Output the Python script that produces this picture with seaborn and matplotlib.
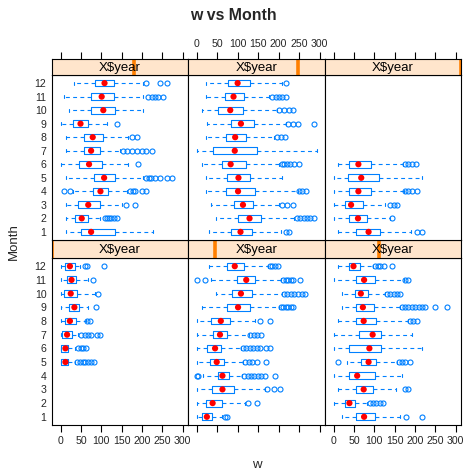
import numpy as np
import pandas as pd
import matplotlib
matplotlib.use("Agg")
import matplotlib.pyplot as plt
import seaborn as sns

nan = np.nan

# Monthly w summaries per year: whisker ends, quartiles, median and outliers
months = list(range(1, 13))
years = [1, 2, 3, 4, 5, 6]

whis_lo = {
    1: [nan, nan, nan, nan, 0, 0, 0, 0, 0, 0, 0, 0],
    2: [0, 0, 0, 16, 0, 0, 0, 0, 12, 48, 34, 31],
    3: [20, 0, 10, 0, 34, 0, 0, 10, 20, 20, 0, 10],
    4: [13, 13, 13, 31, 13, 0, 13, 13, 0, 21, 9, 33],
    5: [30, 47, 34, 23, 23, 12, 2, 23, 26, 12, 23, 23],
    6: [10, 0, 0, 0, 0, 10, nan, nan, nan, nan, nan, nan],
}
q1 = {
    1: [nan, nan, nan, nan, 2, 2, 4, 11, 21, 9, 15, 11],
    2: [12, 23, 37, 53, 33, 25, 39, 34, 75, 86, 98, 75],
    3: [55, 29, 55, 37, 68, 39, 63, 55, 55, 52, 55, 39],
    4: [49, 35, 43, 80, 82, 46, 58, 58, 30, 74, 76, 85],
    5: [84, 102, 92, 71, 75, 61, 41, 72, 84, 53, 70, 76],
    6: [56, 39, 29, 37, 35, 39, nan, nan, nan, nan, nan, nan],
}
median = {
    1: [nan, nan, nan, nan, 12, 12, 16, 23, 34, 25, 27, 23],
    2: [25, 39, 63, 63, 49, 45, 57, 59, 101, 108, 121, 93],
    3: [75, 39, 74, 58, 86, 88, 96, 74, 72, 67, 75, 49],
    4: [75, 52, 68, 98, 107, 70, 75, 79, 49, 105, 101, 108],
    5: [107, 129, 113, 101, 102, 83, 93, 94, 108, 82, 90, 100],
    6: [86, 60, 43, 61, 68, 61, nan, nan, nan, nan, nan, nan],
}
q3 = {
    1: [nan, nan, nan, nan, 19, 19, 27, 38, 46, 41, 39, 35],
    2: [37, 61, 90, 79, 67, 60, 75, 82, 129, 135, 143, 116],
    3: [102, 52, 98, 102, 105, 117, 117, 105, 100, 84, 102, 66],
    4: [134, 68, 97, 117, 134, 101, 97, 105, 68, 133, 131, 131],
    5: [135, 158, 137, 142, 131, 121, 146, 121, 139, 112, 116, 131],
    6: [115, 82, 72, 92, 111, 92, nan, nan, nan, nan, nan, nan],
}
whis_hi = {
    1: [nan, nan, nan, nan, 35, 35, 43, 62, 68, 84, 68, 48],
    2: [61, 119, 166, 111, 113, 107, 127, 143, 201, 209, 205, 174],
    3: [164, 82, 154, 169, 156, 216, 193, 182, 164, 127, 172, 98],
    4: [228, 97, 150, 162, 203, 166, 146, 166, 113, 203, 202, 202],
    5: [205, 238, 201, 246, 207, 201, 293, 189, 217, 197, 176, 209],
    6: [189, 139, 127, 172, 216, 170, nan, nan, nan, nan, nan, nan],
}
outliers = {
    1: [[], [], [], [], [41, 48, 54, 61, 68, 76, 82], [43, 49, 56, 62],
        [49, 60, 68, 76, 89, 98], [66, 72], [87], [93], [79], [60, 66, 107]],
    2: [[70, 75], [125, 146], [172, 189, 203],
        [0, 4, 116, 125, 133, 141, 149, 157, 166, 191],
        [119, 127, 135, 146, 170], [113, 121, 130, 138, 146, 154, 168, 179],
        [131, 139, 148, 156], [154, 178], [205, 211, 217, 223, 230, 236],
        [213, 221, 230, 238, 246, 258, 264],
        [0, 20, 211, 217, 223, 230, 236, 252], [179, 184, 190, 198]],
    3: [[179, 216], [89, 97, 105, 113, 121], [176, 184], [],
        [12, 160, 168, 176, 187], [], [], [187, 195, 205],
        [168, 176, 184, 193, 201, 209, 217, 225, 248, 279],
        [131, 139, 148, 156, 164], [176, 182], [102, 108, 115, 123, 143]],
    4: [[], [109, 115, 120, 125, 131, 138], [161, 183],
        [9, 23, 170, 179, 183, 199, 210],
        [211, 218, 223, 232, 244, 261, 273], [191],
        [154, 162, 175, 187, 199, 211, 224], [175, 187], [138], [],
        [214, 224, 232, 240, 252], [210, 244, 261]],
    5: [[217, 225], [244, 252, 261, 269, 277, 285], [209, 221, 234],
        [250, 258, 266], [], [207, 213, 220, 228, 238, 250], [],
        [195, 205, 215], [223, 236, 248, 285], [201, 213, 225, 234],
        [184, 193, 201, 209, 217], [217]],
    6: [[205, 217], [143], [139, 148, 157], [176, 184, 193, 205], [],
        [176, 184, 193, 203], [], [], [], [], [], []],
}
x_ticks = [0, 50, 100, 150, 200, 250, 300]

sns.set_theme(style="white")
plt.rcParams["font.family"] = ["Liberation Sans", "DejaVu Sans"]

BLUE = "#0080ff"
STRIP_BG = "#ffe5cc"
STRIP_BAR = "#ff7f00"
XLIM = (-21, 313)
YLIM = (0.4, 12.6)
TICK_FS = 7.6

W, H = 466, 475
fig = plt.figure(figsize=(W / 100, H / 100), dpi=100)


def rect(x0, y0, x1, y1):
    return [x0 / W, 1 - y1 / H, (x1 - x0) / W, (y1 - y0) / H]


col_x = [(52, 188), (188, 325), (325, 461)]
# (panel top, panel bottom, strip top) for each row
row_y = {0: (75, 240, 59), 1: (258, 425, 240)}
# panel layout: top row holds years 4-6, bottom row years 1-3
layout = {4: (0, 0), 5: (0, 1), 6: (0, 2), 1: (1, 0), 2: (1, 1), 3: (1, 2)}

for yr in years:
    r, c = layout[yr]
    x0, x1 = col_x[c]
    ptop, pbot, stop = row_y[r]
    ax = fig.add_axes(rect(x0, ptop, x1, pbot))
    sax = fig.add_axes(rect(x0, stop, x1, ptop))

    stats = []
    pos = []
    for i, m in enumerate(months):
        if np.isnan(median[yr][i]):
            continue
        stats.append(dict(whislo=whis_lo[yr][i], q1=q1[yr][i], med=median[yr][i],
                          q3=q3[yr][i], whishi=whis_hi[yr][i],
                          fliers=outliers[yr][i]))
        pos.append(m)
    ax.bxp(stats, positions=pos, orientation="horizontal", widths=0.5,
           capwidths=0.22, showcaps=True, showfliers=True, manage_ticks=False,
           boxprops=dict(color=BLUE, linewidth=0.8),
           whiskerprops=dict(color=BLUE, linewidth=0.8, linestyle=(0, (3.5, 3))),
           capprops=dict(color=BLUE, linewidth=0.8),
           medianprops=dict(linewidth=0),
           flierprops=dict(marker="o", markerfacecolor="none",
                           markeredgecolor=BLUE, markersize=3.6,
                           markeredgewidth=0.8))

    med_df = pd.DataFrame({"Month": months, "w": median[yr]}).dropna()
    sns.scatterplot(data=med_df, x="w", y="Month", ax=ax, color="red",
                    s=20, edgecolor="none", zorder=5)

    ax.set_xlim(*XLIM)
    ax.set_ylim(*YLIM)
    ax.set_xlabel("")
    ax.set_ylabel("")
    for sp in ax.spines.values():
        sp.set_visible(True)
        sp.set_color("black")
        sp.set_linewidth(0.8)

    # y labels on the left column only, no tick marks
    ax.set_yticks(months)
    if c == 0:
        ax.set_yticklabels([str(m) for m in months], fontsize=TICK_FS)
        ax.tick_params(axis="y", left=False, length=0, pad=4)
    else:
        ax.tick_params(axis="y", left=False, labelleft=False)

    ax.set_xticks(x_ticks)
    if r == 1:
        ax.tick_params(axis="x", bottom=True, top=False, direction="out",
                       length=5, width=0.8, color="black",
                       labelbottom=(c != 1), labelsize=TICK_FS, pad=3)
    else:
        ax.tick_params(axis="x", bottom=False, labelbottom=False)

    # strip with variable name and level marker
    sax.set_facecolor(STRIP_BG)
    sax.set_xlim(*XLIM)
    sax.set_ylim(0, 1)
    sax.set_yticks([])
    for sp in sax.spines.values():
        sp.set_visible(True)
        sp.set_color("black")
        sp.set_linewidth(0.8)
    frac = (yr - 1) / (len(years) - 1)
    sax.plot([frac, frac], [0, 1], transform=sax.transAxes, color=STRIP_BAR,
             linewidth=2.6, solid_capstyle="butt", clip_on=True, zorder=1)
    sax.text(0.5, 0.45, "X$year", transform=sax.transAxes, ha="center",
             va="center", fontsize=9.5, color="black", zorder=2)
    sax.set_xticks(x_ticks)
    if r == 0:
        sax.tick_params(axis="x", top=True, bottom=False, direction="out",
                        length=5, width=0.8, color="black", labelbottom=False,
                        labeltop=(c == 1), labelsize=TICK_FS, pad=2)
    else:
        sax.tick_params(axis="x", top=False, bottom=False, labelbottom=False)

fig.text(0.5, 1 - 15 / H, "w vs Month", ha="center", va="center",
         fontsize=11.4, fontweight="bold")
fig.text(256.5 / W, 1 - 465 / H, "w", ha="center", va="center", fontsize=9.5)
fig.text(14 / W, 1 - 242 / H, "Month", ha="center", va="center",
         fontsize=9.5, rotation=90)

fig.savefig("out.png", dpi=100)
